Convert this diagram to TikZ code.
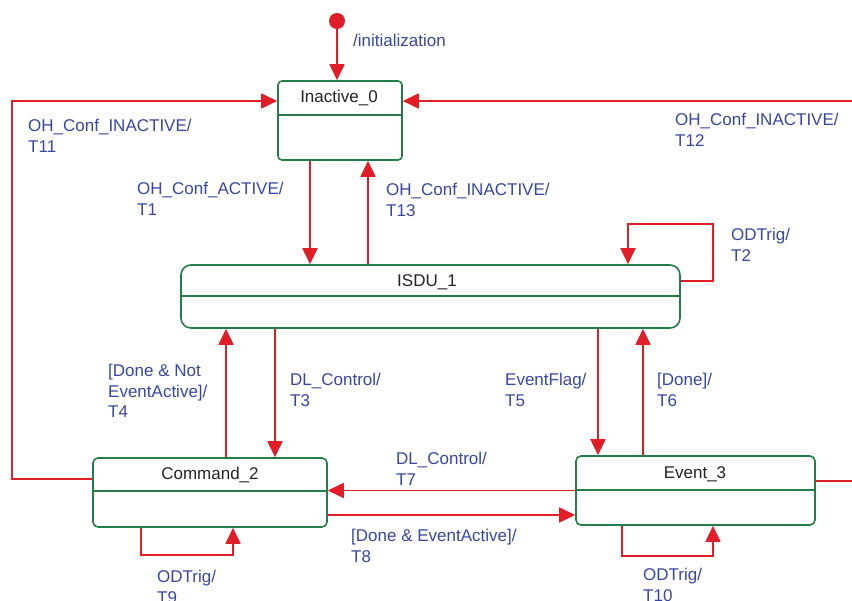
\documentclass[tikz,border=0pt]{standalone}
\usepackage{fontspec}
\setmainfont{Liberation Sans}
\usetikzlibrary{arrows.meta}
\definecolor{tred}{RGB}{225,30,40}
\definecolor{tgreen}{RGB}{35,125,70}
\definecolor{tblue}{RGB}{55,70,165}
\definecolor{tgray}{RGB}{35,35,35}
\tikzset{
  box/.style={draw=tgreen,line width=1.6pt,rounded corners=5pt,inner sep=0pt},
  divider/.style={draw=tgreen,line width=1.6pt},
  arr/.style={draw=tred,line width=1.8pt,-{Triangle[length=16pt,width=15pt]}},
  wire/.style={draw=tred,line width=1.8pt},
  lab/.style={text=tblue,font=\fontsize{17}{20.5}\selectfont,align=left,anchor=north west,inner sep=0pt},
  title/.style={text=tgray,font=\fontsize{17}{20}\selectfont,inner sep=0pt,anchor=base}
}
\begin{document}
\begin{tikzpicture}[x=1pt,y=-1pt]
\useasboundingbox (0,0) rectangle (852,601);
% states
\node[box,rounded corners=4pt,minimum width=124pt,minimum height=79pt] (inactive) at (340,120.5) {};
\node[box,rounded corners=10pt,minimum width=499pt,minimum height=63pt] (isdu) at (430.5,296.5) {};
\node[box,minimum width=234pt,minimum height=69pt] (cmd) at (210,492.5) {};
\node[box,minimum width=239pt,minimum height=69pt] (evt) at (695.5,490.5) {};
\draw[divider] ([yshift=-35pt]inactive.north west) -- ([yshift=-35pt]inactive.north east);
\draw[divider] ([yshift=-32pt]isdu.north west) -- ([yshift=-32pt]isdu.north east);
\draw[divider] ([yshift=-34pt]cmd.north west) -- ([yshift=-34pt]cmd.north east);
\draw[divider] ([yshift=-35pt]evt.north west) -- ([yshift=-35pt]evt.north east);
\node[title] (tinactive) at (339,103) {Inactive\_0};
\node[title] (tisdu) at (427,287) {ISDU\_1};
\node[title] (tcmd) at (210,480) {Command\_2};
\node[title] (tevt) at (695,479) {Event\_3};
% initial
\node[circle,fill=tred,minimum size=16pt,inner sep=0pt] (init) at (337,21) {};
\draw[arr] (init.south) -- (init.south |- inactive.north);
% outer wires
\coordinate (lc) at (12,101);
\coordinate (rc) at (858,101);
\draw[arr] ([yshift=13.5pt]cmd.west) -| (lc) -- ([yshift=19.5pt]inactive.west);
\draw[arr] ([yshift=9.5pt]evt.east) -| (rc) -- ([yshift=19.5pt]inactive.east);
% Inactive <-> ISDU
\draw[arr] ([xshift=-30pt]inactive.south) -- ([xshift=-30pt]inactive.south |- isdu.north);
\draw[arr] ([xshift=28pt]inactive.south |- isdu.north) -- ([xshift=28pt]inactive.south);
% ISDU self loop
\coordinate (t2c) at (713,224);
\draw[arr] ([yshift=15.5pt]isdu.east) -| (t2c) -| ([xshift=197.5pt]isdu.north);
% ISDU <-> Command
\draw[arr] ([xshift=16pt]cmd.north) -- ([xshift=16pt]cmd.north |- isdu.south);
\draw[arr] ([xshift=65pt]cmd.north |- isdu.south) -- ([xshift=65pt]cmd.north);
% ISDU <-> Event
\draw[arr] ([xshift=-97.5pt]evt.north |- isdu.south) -- ([xshift=-97.5pt]evt.north);
\draw[arr] ([xshift=-52.5pt]evt.north) -- ([xshift=-52.5pt]evt.north |- isdu.south);
% Command <-> Event
\draw[arr] (evt.west) -- (evt.west -| cmd.east);
\draw[arr] ([yshift=-22.5pt]cmd.east) -- ([yshift=-22.5pt]cmd.east -| evt.west);
% self loops
\draw[arr] ([xshift=-69pt]cmd.south) -- ++(0,27) -| ([xshift=23pt]cmd.south);
\draw[arr] ([xshift=-73.5pt]evt.south) -- ++(0,30) -| ([xshift=17.5pt]evt.south);
% labels
\node[lab] (linit) at (353,34) {/initialization};
\node[lab] (l11) at (28,119) {OH\_Conf\_INACTIVE/\\T11};
\node[lab] (l12) at (675,113) {OH\_Conf\_INACTIVE/\\T12};
\node[lab] (l1) at (137,182) {OH\_Conf\_ACTIVE/\\T1};
\node[lab] (l13) at (386,183) {OH\_Conf\_INACTIVE/\\T13};
\node[lab] (l2) at (731,228) {ODTrig/\\T2};
\node[lab] (l4) at (108,364) {[Done \& Not\\EventActive]/\\T4};
\node[lab] (l3) at (290,373) {DL\_Control/\\T3};
\node[lab] (l5) at (505,373) {EventFlag/\\T5};
\node[lab] (l6) at (657,373) {[Done]/\\T6};
\node[lab] (l7) at (396,452) {DL\_Control/\\T7};
\node[lab] (l8) at (351,529) {[Done \& EventActive]/\\T8};
\node[lab] (l9) at (157,570) {ODTrig/\\T9};
\node[lab] (l10) at (643,568) {ODTrig/\\T10};
\end{tikzpicture}
\end{document}
